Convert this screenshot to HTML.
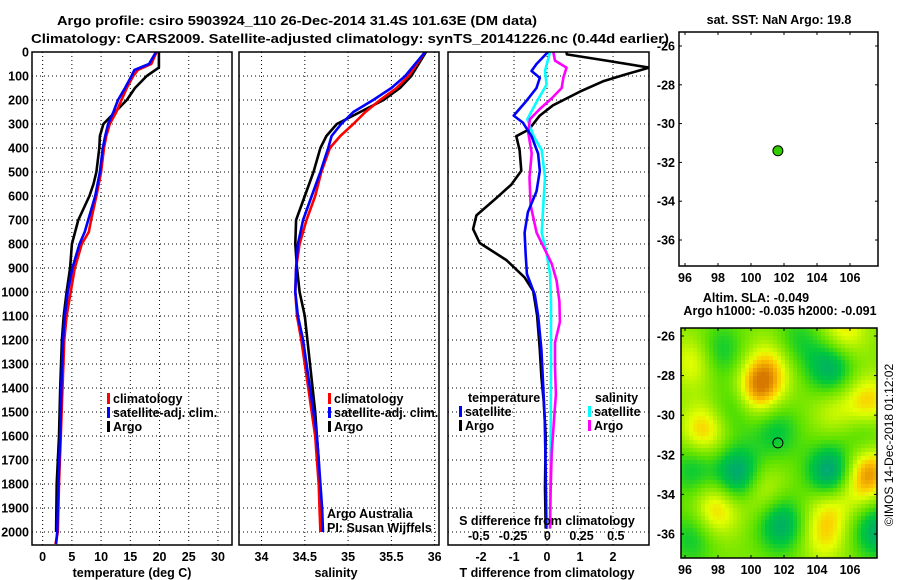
<!DOCTYPE html>
<html><head><meta charset="utf-8"><style>
html,body{margin:0;padding:0;background:#fff;}
svg{display:block;font-family:"Liberation Sans",sans-serif;}
.b{font-weight:bold;font-size:12.5px;}
</style></head><body>
<svg id="c" width="900" height="580" viewBox="0 0 900 580" xmlns="http://www.w3.org/2000/svg">
<text x="57" y="25" text-anchor="start" class="b" font-size="14" textLength="480" lengthAdjust="spacingAndGlyphs">Argo profile: csiro 5903924_110 26-Dec-2014 31.4S 101.63E (DM data)</text>
<text x="31" y="43" text-anchor="start" class="b" font-size="14" textLength="638" lengthAdjust="spacingAndGlyphs">Climatology: CARS2009. Satellite-adjusted climatology: synTS_20141226.nc (0.44d earlier)</text>
<text x="779" y="24" text-anchor="middle" class="b">sat. SST: NaN Argo: 19.8</text>
<text x="756" y="302" text-anchor="middle" class="b">Altim. SLA: -0.049</text>
<text x="780" y="315" text-anchor="middle" class="b">Argo h1000: -0.035 h2000: -0.091</text>
<text transform="translate(893,445) rotate(-90)" text-anchor="middle" font-size="12">©IMOS 14-Dec-2018 01:12:02</text>
<g id="g"></g>
</svg>
<script>
// ---- depth (m) ----
const depthTicks=[0,100,200,300,400,500,600,700,800,900,1000,1100,1200,1300,1400,1500,1600,1700,1800,1900,2000];
// temperature profiles
const tDepthClim=[0,50,75,100,150,200,250,300,350,400,500,600,700,750,800,900,1000,1100,1200,1400,1600,1800,2000,2050];
const tClim=[19.5,18.6,16.3,15.5,14.4,13.5,12.6,11.5,10.9,10.5,10.0,9.2,8.3,7.9,6.7,5.5,4.8,4.1,3.7,3.4,3.1,2.8,2.6,2.2];
const tSat=[19.4,18.2,15.7,15.2,14.1,12.9,12.1,11.2,10.7,10.3,9.8,9.0,7.8,7.2,6.3,5.1,4.3,3.8,3.5,3.2,3.0,2.7,2.5,2.3];
const tDepthArgo=[0,65,100,150,200,250,300,350,400,500,550,600,700,800,900,1000,1100,1200,1400,1600,1800,2000];
const tArgo=[19.9,19.9,17.8,15.8,14.4,12.4,10.4,9.8,9.7,9.2,8.7,8.0,6.1,5.0,4.7,4.1,3.6,3.3,3.0,2.8,2.4,2.3];
const tTicks=[0,5,10,15,20,25,30];
// salinity profiles
const sDepth=[0,100,150,200,250,300,350,400,500,600,700,800,900,1000,1100,1200,1300,1400,1500,1600,1700,1800,1900,2000];
const sClim=[35.89,35.70,35.56,35.37,35.20,35.06,34.91,34.79,34.69,34.62,34.52,34.44,34.40,34.39,34.41,34.46,34.50,34.54,34.58,34.62,34.64,34.66,34.67,34.68];
const sSat=[35.89,35.66,35.50,35.29,35.06,34.92,34.81,34.77,34.68,34.58,34.48,34.42,34.40,34.39,34.42,34.48,34.52,34.56,34.60,34.64,34.66,34.68,34.70,34.71];
const sArgo=[35.90,35.73,35.60,35.41,35.14,34.87,34.75,34.68,34.60,34.50,34.40,34.39,34.41,34.44,34.50,34.53,34.56,34.59,34.62,34.64,34.66,34.67,34.68,34.69];
const sTicks=[34,34.5,35,35.5,36];
// differences
const dtArgoDepth=[0,10,36,65,93,122,165,222,265,323,351,409,495,552,609,681,738,796,867,939,996,1097,1240,1355,1455,1599,1814,1986];
const dtArgo=[0.59,0.6,1.8,3.1,2.4,1.7,1.0,0.18,-0.22,-0.55,-0.93,-0.83,-0.78,-1.08,-1.54,-2.14,-2.24,-2.04,-1.23,-0.68,-0.42,-0.30,-0.22,-0.17,-0.10,-0.04,-0.06,-0.04];
const dtSatDepth=[0,50,79,108,150,208,265,294,351,423,495,581,667,753,839,925,1011,1097,1240,1383,1527,1742,1986];
const dtSat=[0.03,-0.32,-0.47,-0.22,-0.32,-0.65,-1.01,-0.73,-0.47,-0.27,-0.22,-0.32,-0.58,-0.68,-0.65,-0.61,-0.37,-0.27,-0.17,-0.12,-0.07,-0.04,-0.02];
const dsArgoDepth=[0,36,65,108,150,194,237,280,337,423,523,638,753,810,882,953,1039,1125,1211,1312,1427,1527,1670,1814,1986];
const dsArgo=[0.044,0.056,0.14,0.117,0.105,0.03,-0.054,-0.127,-0.139,-0.114,-0.13,-0.122,-0.078,-0.029,0.032,0.068,0.088,0.092,0.056,0.056,0.063,0.05,0.032,0.025,0.02];
const dsSatDepth=[0,79,136,208,280,351,409,523,638,753,839,925,1039,1300,1600,1986];
const dsSat=[0.02,-0.017,-0.005,-0.078,-0.146,-0.10,-0.041,-0.017,-0.029,-0.041,-0.005,0.02,0.027,0.027,0.025,0.02];
const dtTicks=[-2,-1,0,1,2];
const dsTicks=[-0.5,-0.25,0,0.25,0.5];
const dsTickLabels=["-0.5","-0.25","0","0.25","0.5"];
// maps
const mapLonTicks=[96,98,100,102,104,106];
const mapLatTicks=[-26,-28,-30,-32,-34,-36];
const argoLon=101.63, argoLat=-31.4;
// SLA anomaly blobs: lon, lat, amplitude
const blobLon=[100.4,97.1,101.2,96.6,105.6,107.1,107.3,106.6,104.8,97.9,104.4,100.6,105.0,104.8,99.2,104.8,101.8,107.6,98.1,101.5,96.5,107.0,96.4,99.0,102.8];
const blobLat=[-28.7,-30.8,-27.5,-27.3,-25.8,-29.4,-32.6,-33.4,-34.3,-34.7,-36.1,-33.8,-29.7,-33.0,-33.0,-27.6,-35.5,-35.8,-26.8,-30.8,-32.7,-31.0,-36.2,-29.6,-26.3];
const blobAmp=[0.8,0.6,0.45,0.45,0.5,0.6,0.55,0.45,0.5,0.6,0.45,0.4,0.3,-1.0,-0.85,-0.7,-0.7,-0.7,-0.45,-0.45,-0.45,-0.4,-0.4,-0.35,-0.35];

const NS="http://www.w3.org/2000/svg";
const G=document.getElementById('g');
function mk(tag,attrs,parent){const e=document.createElementNS(NS,tag);for(const k in attrs)e.setAttribute(k,attrs[k]);(parent||G).appendChild(e);return e;}
function txt(x,y,s,anchor,cls,parent){const t=mk('text',{x:x,y:y,'text-anchor':anchor||'middle','class':cls||'b'},parent);t.textContent=s;return t;}

const Y0=52, PY=0.24, PB=545;
const yD=d=>Y0+PY*d;
const panels=[
 {x0:32,x1:232,v0:-1.82,v1:32.4},
 {x0:239,x1:439,v0:33.74,v1:36.05},
 {x0:448,x1:649,v0:-3.0,v1:3.09}
];
function xf(p){return v=>p.x0+(v-p.v0)/(p.v1-p.v0)*(p.x1-p.x0);}
const xT=xf(panels[0]), xS=xf(panels[1]), xDT=xf(panels[2]);
const xDS=v=>547.3+v*137;

const defs=mk('defs',{});
panels.forEach((p,i)=>{const cp=mk('clipPath',{id:'cp'+i},defs);mk('rect',{x:p.x0,y:Y0,width:p.x1-p.x0,height:PB-Y0},cp);});

panels.forEach((p,i)=>{
 const pg=mk('g',{});
 
 
 depthTicks.forEach(d=>{const l=mk('line',{x1:p.x0,x2:p.x1,y1:yD(d),y2:yD(d),stroke:'#000','stroke-width':1,'stroke-dasharray':'1,3'},pg);
  });
 const vt = i==0?tTicks:i==1?sTicks:dtTicks;
 const fx = i==0?xT:i==1?xS:xDT;
 vt.forEach(v=>{const l=mk('line',{x1:fx(v),x2:fx(v),y1:Y0,y2:PB,stroke:'#000','stroke-width':1,'stroke-dasharray':'1,3'},pg);
  
  const t=txt(fx(v),561,String(v),'middle','b',pg);});
});
depthTicks.forEach(d=>{const t=txt(29,yD(d)+4.5,String(d),'end');});
dsTicks.forEach((v,i)=>{const t=txt(xDS(v),540,dsTickLabels[i]);});

function line(xs,ds,fx,color,clip,name){
 const pts=xs.map((v,i)=>fx(v).toFixed(1)+','+yD(ds[i]).toFixed(1)).join(' ');
 const l=mk('polyline',{points:pts,fill:'none',stroke:color,'stroke-width':2.6,'stroke-linejoin':'round','clip-path':'url(#'+clip+')'});
 
 
}
line(tArgo,tDepthArgo,xT,'#000','cp0','temp-argo-line');
line(tClim,tDepthClim,xT,'#f00','cp0','temp-climatology-line');
line(tSat,tDepthClim,xT,'#00f','cp0','temp-satellite-line');
line(sArgo,sDepth,xS,'#000','cp1','sal-argo-line');
line(sClim,sDepth,xS,'#f00','cp1','sal-climatology-line');
line(sSat,sDepth,xS,'#00f','cp1','sal-satellite-line');
line(dtArgo,dtArgoDepth,xDT,'#000','cp2','tdiff-argo-line');
line(dsSat,dsSatDepth,xDS,'#0ff','cp2','sdiff-satellite-line');
line(dsArgo,dsArgoDepth,xDS,'#f0f','cp2','sdiff-argo-line');
line(dtSat,dtSatDepth,xDT,'#00f','cp2','tdiff-satellite-line');

panels.forEach(p=>{const r=mk('rect',{x:p.x0,y:Y0,width:p.x1-p.x0,height:PB-Y0,fill:'none',stroke:'#000','stroke-width':1.5});
 });

function legend(x,y,items,name){
 items.forEach((it,i)=>{const r=mk('rect',{x:x,y:y+i*14-10,width:3,height:11,fill:it[1]});
  
  const t=txt(x+6,y+i*14,it[0],'start');});
}
legend(107,403,[['climatology','#f00'],['satellite-adj. clim.','#00f'],['Argo','#000']],'temp-legend');
legend(328,403,[['climatology','#f00'],['satellite-adj. clim.','#00f'],['Argo','#000']],'sal-legend');
let t;
t=txt(468,402,'temperature','start');
t=txt(595,402,'salinity','start');
legend(459,416,[['satellite','#00f'],['Argo','#000']],'tdiff-legend');
legend(588,416,[['satellite','#0ff'],['Argo','#f0f']],'sdiff-legend');
t=txt(327,518,'Argo Australia','start','');t.setAttribute('font-size','12');
t=txt(327,532,'PI: Susan Wijffels','start','');t.setAttribute('font-size','12');
t=txt(547,525,'S difference from climatology');
t=txt(132,577,'temperature (deg C)');
t=txt(336,577,'salinity');
t=txt(547,577,'T difference from climatology');

// maps
const M1={x0:679,x1:878,y0:32,y1:266,lonx:v=>685+(v-96)*16.5,laty:v=>46+(-26-v)*19.4};
const M2={x0:681,x1:877,y0:328,y1:558,lonx:v=>685+(v-96)*16.5,laty:v=>336+(-26-v)*19.8};
const cmapV=[-1,-0.6,-0.3,0,0.3,0.5,0.7,1];
const cmapC=[[60,220,220],[0,170,110],[0,200,60],[90,225,0],[170,240,0],[230,255,0],[255,200,0],[215,120,0]];
function col(v){v=Math.max(-1,Math.min(1,v));for(let i=0;i<cmapV.length-1;i++){if(v<=cmapV[i+1]){const f=(v-cmapV[i])/(cmapV[i+1]-cmapV[i]);const a=cmapC[i],b=cmapC[i+1];return 'rgb('+a.map((c,k)=>Math.round(c+(b[k]-c)*f)).join(',')+')';}}return 'rgb(215,120,0)';}
const hm=mk('g',{});


const cs=4;
for(let y=M2.y0;y<M2.y1;y+=cs){for(let x=M2.x0;x<M2.x1;x+=cs){
 const lon=96+(x+cs/2-685)/16.5, lat=-26-(y+cs/2-336)/19.8;
 let v=0.12;
 for(let k=0;k<blobLon.length;k++){const dx=lon-blobLon[k],dy=lat-blobLat[k];v+=blobAmp[k]*Math.exp(-(dx*dx+dy*dy)/(2*1.0*1.0));}
 const c=mk('rect',{x:x,y:y,width:Math.min(cs,M2.x1-x),height:Math.min(cs,M2.y1-y),fill:col(v)},hm);
 
 
}}
[M1,M2].forEach((M,mi)=>{
 const r=mk('rect',{x:M.x0,y:M.y0,width:M.x1-M.x0,height:M.y1-M.y0,fill:'none',stroke:'#000','stroke-width':1.5});
 
 mapLonTicks.forEach(v=>{const x=M.lonx(v);mk('line',{x1:x,x2:x,y1:M.y1,y2:M.y1-3,stroke:'#000'});mk('line',{x1:x,x2:x,y1:M.y0,y2:M.y0+3,stroke:'#000'});
  const tt=txt(x,M.y1+16,String(v));});
 mapLatTicks.forEach(v=>{const y=M.laty(v);mk('line',{x1:M.x1,x2:M.x1-3,y1:y,y2:y,stroke:'#000'});mk('line',{x1:M.x0,x2:M.x0+3,y1:y,y2:y,stroke:'#000'});
  const tt=txt(675,y+4.5,String(v),'end');});
});
let dot=mk('circle',{cx:M1.lonx(argoLon),cy:M1.laty(argoLat),r:5,fill:'#33cc00',stroke:'#000','stroke-width':1});


dot=mk('circle',{cx:M2.lonx(argoLon),cy:M2.laty(argoLat),r:5,fill:'none',stroke:'#000','stroke-width':1});


</script>
</body></html>
